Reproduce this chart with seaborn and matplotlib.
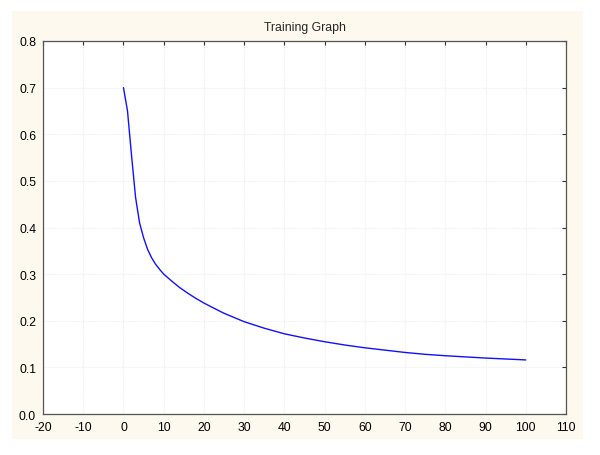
import matplotlib
matplotlib.use("Agg")
import matplotlib.pyplot as plt
import matplotlib.patches as mpatches
import seaborn as sns
import pandas as pd

epochs = [0, 1, 2, 3, 4, 5, 6, 7, 8, 9, 10, 12, 14, 16, 18, 20, 22, 25, 30, 35,
          40, 45, 50, 55, 60, 65, 70, 75, 80, 85, 90, 95, 100]
loss = [0.700, 0.650, 0.555, 0.465, 0.410, 0.378, 0.353, 0.335, 0.321, 0.310,
        0.300, 0.285, 0.271, 0.259, 0.248, 0.238, 0.229, 0.216, 0.198, 0.184,
        0.172, 0.163, 0.155, 0.148, 0.142, 0.137, 0.132, 0.128, 0.125, 0.1225,
        0.120, 0.118, 0.116]
x_ticks = [-20, -10, 0, 10, 20, 30, 40, 50, 60, 70, 80, 90, 100, 110]
y_ticks = [0.0, 0.1, 0.2, 0.3, 0.4, 0.5, 0.6, 0.7, 0.8]
title = "Training Graph"

sns.set_style("white")
plt.rcParams['font.family'] = ['Liberation Sans', 'DejaVu Sans']

fig = plt.figure(figsize=(6, 4.56), dpi=100, facecolor="white")
fig.patches.append(mpatches.Rectangle((0.02, 0.035), 0.952, 0.939,
                                      transform=fig.transFigure,
                                      facecolor="#fdf9ee", edgecolor="none",
                                      zorder=-10))
ax = fig.add_axes([0.0717, 0.0899, 0.8716, 0.818])
ax.set_zorder(1)
ax.set_facecolor("white")

df = pd.DataFrame({"epoch": epochs, "loss": loss})
sns.lineplot(data=df, x="epoch", y="loss", ax=ax, color="#1010ff", linewidth=1.0)

ax.set_xlim(-20, 110)
ax.set_ylim(0, 0.8)
ax.set_xticks(x_ticks)
ax.set_xticklabels([str(t) for t in x_ticks])
ax.set_yticks(y_ticks)
ax.set_yticklabels([f"{t:.1f}" for t in y_ticks])
ax.set_xlabel("")
ax.set_ylabel("")
ax.grid(True, color="#eeeeee", linewidth=0.8, linestyle=(0, (1, 1)))
ax.tick_params(direction="in", length=3, width=0.8, colors="#333333",
               labelsize=8.7, top=True, right=True, labelcolor="black",
               pad=5)
for s in ax.spines.values():
    s.set_color("#555555")
    s.set_linewidth(0.9)
    s.set_visible(True)
ax.set_title(title, fontsize=8.8, pad=8)

fig.savefig("out.png", dpi=100, facecolor="white")
